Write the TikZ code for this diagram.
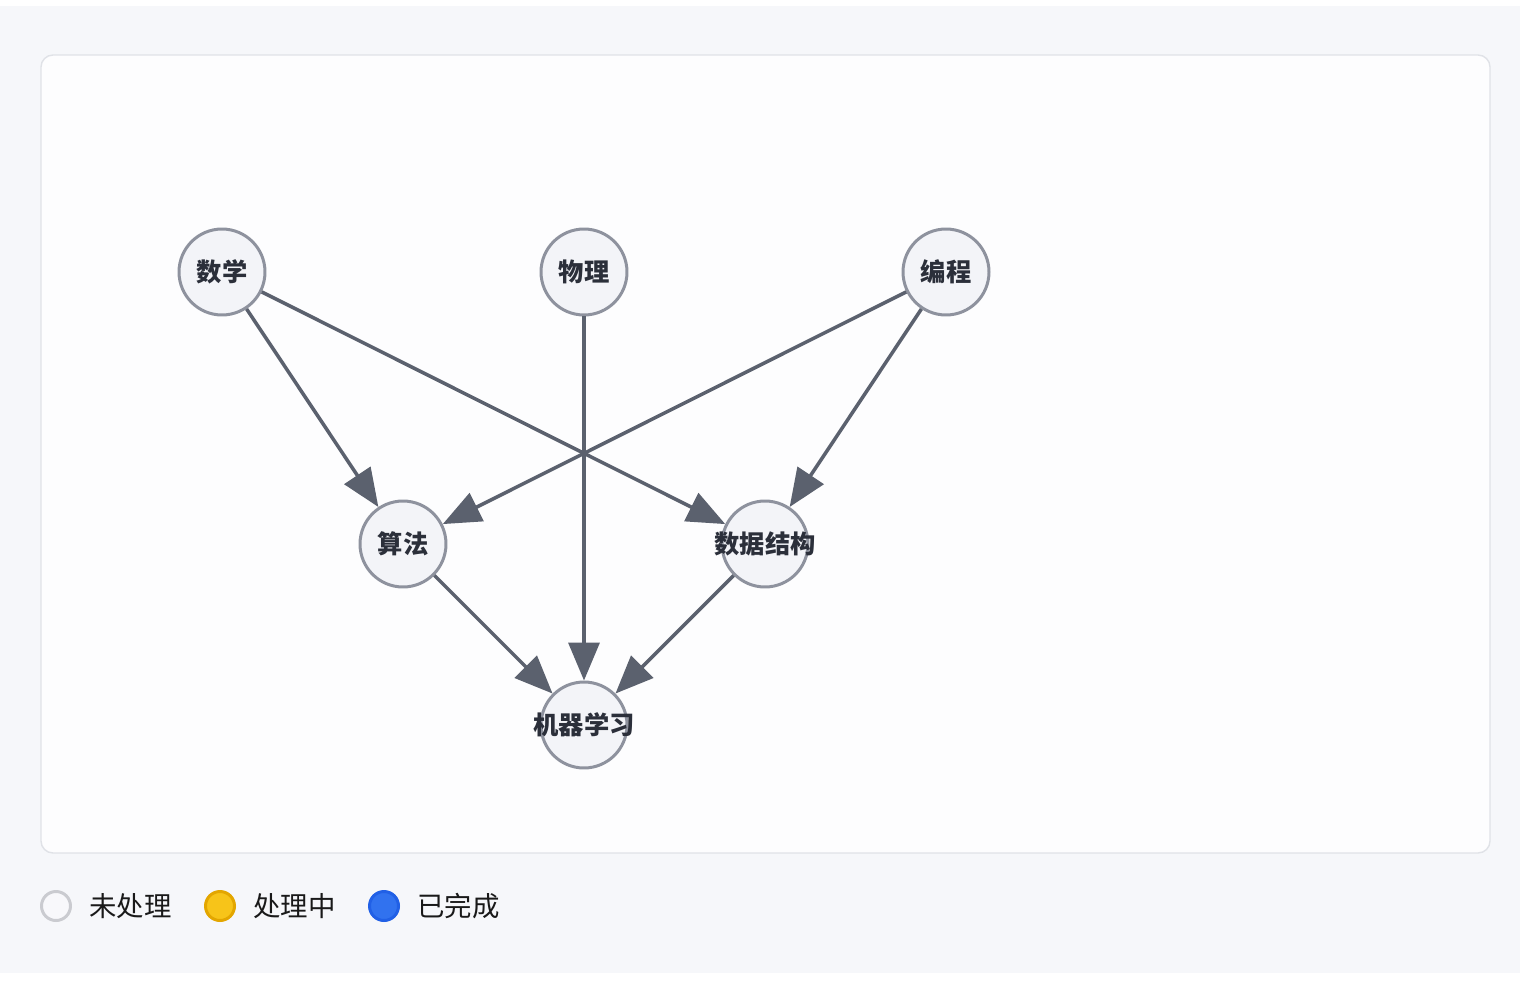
\documentclass[tikz,border=0pt]{standalone}
\usepackage{fontspec}
\setmainfont{Noto Sans CJK SC}
\usetikzlibrary{arrows.meta,positioning}
\definecolor{pagebg}{HTML}{F6F7FA}
\definecolor{panelbg}{HTML}{FDFDFE}
\definecolor{panelline}{HTML}{E0E2E7}
\definecolor{nodeline}{HTML}{8E929E}
\definecolor{nodefill}{HTML}{F3F4F8}
\definecolor{edgecol}{HTML}{5B616E}
\definecolor{labeltext}{HTML}{2B2F3A}
\definecolor{idleline}{HTML}{CACBD0}
\definecolor{idlefill}{HTML}{F8F8FB}
\definecolor{busyline}{HTML}{E3A600}
\definecolor{busyfill}{HTML}{F7C419}
\definecolor{doneline}{HTML}{2160E6}
\definecolor{donefill}{HTML}{3172EF}

\begin{document}
\begin{tikzpicture}[
    x=0.02cm, y=-0.02cm,
    topic/.style={circle, draw=nodeline, fill=nodefill, line width=1.7pt, minimum size=1.72cm, inner sep=0pt},
    lbl/.style={font=\bfseries\fontsize{14.4}{17}\selectfont, text=labeltext, inner sep=0pt},
    dep/.style={-{Triangle[length=0.76cm, width=0.62cm]}, draw=edgecol, line width=2pt},
    dot/.style={circle, line width=1.7pt, minimum size=0.58cm, inner sep=0pt},
    legend/.style={anchor=west, font=\fontsize{15.6}{18}\selectfont, text=black!90, inner sep=0pt}
]
    \useasboundingbox (0,0) rectangle (1520,980);

    % Background and panel
    \fill[pagebg] (0,6) rectangle (1520,973);
    \draw[panelline, fill=panelbg, line width=0.8pt, rounded corners=0.24cm] (41,55) rectangle (1490,853);

    % Topics
    \node[topic, label={[lbl]center:数学}] (math) at (222,272) {};
    \node[topic, label={[lbl]center:物理}] (phys) at (584,272) {};
    \node[topic, label={[lbl]center:编程}] (prog) at (946,272) {};
    \node[topic, label={[lbl]center:算法}] (algo) at (403,544) {};
    \node[topic, label={[lbl]center:数据结构}] (ds) at (765,544) {};
    \node[topic, label={[lbl]center:机器学习}] (ml) at (584,725) {};

    % Dependencies
    \foreach \a/\b in {math/algo, math/ds, phys/ml, prog/algo, prog/ds, algo/ml, ds/ml} {
        \draw[dep] (\a) -- (\b);
    }

    % Legend
    \node[dot, draw=idleline, fill=idlefill] (idle) at (56,906) {};
    \node[legend] at (89,906) {未处理};
    \node[dot, draw=busyline, fill=busyfill] (busy) at (220,906) {};
    \node[legend] at (253,906) {处理中};
    \node[dot, draw=doneline, fill=donefill] (done) at (384,906) {};
    \node[legend] at (417,906) {已完成};
\end{tikzpicture}
\end{document}
